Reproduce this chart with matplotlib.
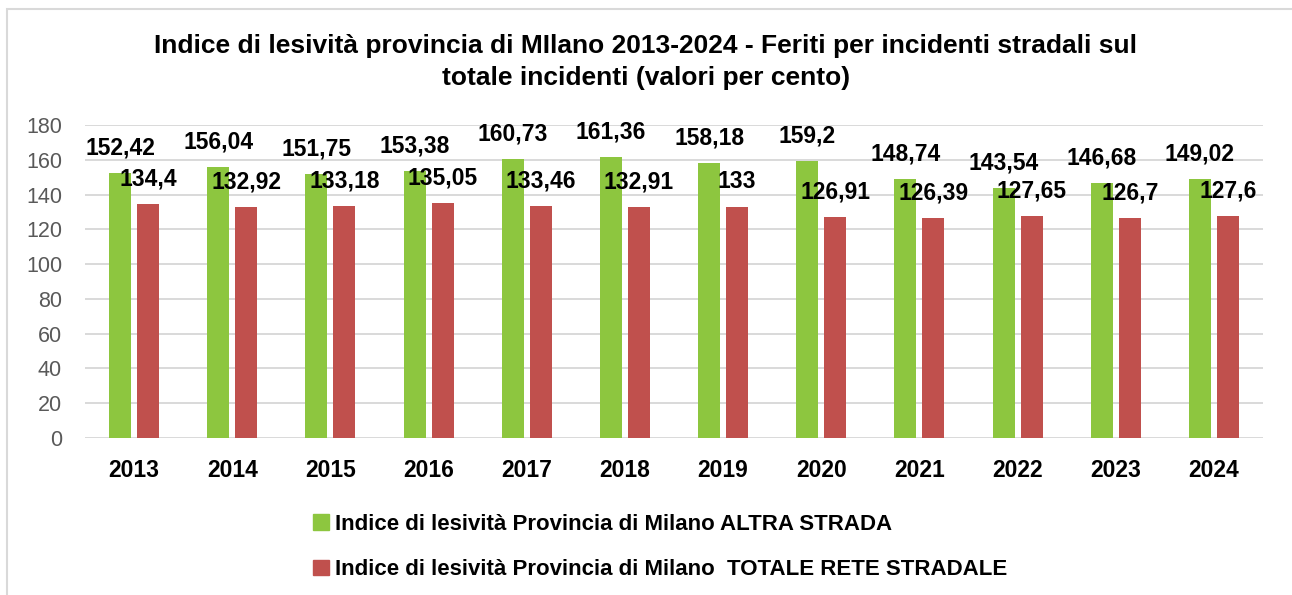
import matplotlib
matplotlib.use("Agg")
import matplotlib.pyplot as plt
import numpy as np
from matplotlib.patches import Patch, Rectangle

years = ["2013", "2014", "2015", "2016", "2017", "2018", "2019", "2020", "2021", "2022", "2023", "2024"]
altra_strada = [152.42, 156.04, 151.75, 153.38, 160.73, 161.36, 158.18, 159.2, 148.74, 143.54, 146.68, 149.02]
totale_rete = [134.4, 132.92, 133.18, 135.05, 133.46, 132.91, 133, 126.91, 126.39, 127.65, 126.7, 127.6]
y_ticks = [0, 20, 40, 60, 80, 100, 120, 140, 160, 180]

title = ("Indice di lesività provincia di MIlano 2013-2024 - Feriti per incidenti stradali sul\n"
         "totale incidenti (valori per cento)")
label_green = "Indice di lesività Provincia di Milano ALTRA STRADA"
label_red = "Indice di lesività Provincia di Milano  TOTALE RETE STRADALE"

GREEN = "#8DC63F"
RED = "#C0504D"
FONT = ["Liberation Sans", "DejaVu Sans"]


def fmt(v):
    s = f"{v:.2f}".rstrip("0").rstrip(".")
    return s.replace(".", ",")


plt.rcParams["font.family"] = FONT

fig = plt.figure(figsize=(12.92, 5.95), dpi=100)
ax = fig.add_axes([85 / 1292, 1 - 438 / 595, (1263 - 85) / 1292, (438 - 125) / 595])

# outer chart border, cropped on right and bottom like the screenshot
fig.patches.append(Rectangle((7 / 1292, -0.2), 1.5, 1 - 9 / 595 + 0.2, transform=fig.transFigure,
                             fill=False, edgecolor="#D9D9D9", linewidth=1.5))

x = np.arange(len(years))
w = 0.224
off = 0.142
b1 = ax.bar(x - off, altra_strada, width=w, color=GREEN, zorder=3)
b2 = ax.bar(x + off, totale_rete, width=w, color=RED, zorder=3)

for bars, vals in ((b1, altra_strada), (b2, totale_rete)):
    for rect, v in zip(bars, vals):
        ax.annotate(fmt(v), (rect.get_x() + rect.get_width() / 2, v), xytext=(0, 18),
                    textcoords="offset points", ha="center", va="center",
                    fontsize=16.5, fontweight="bold", color="black", zorder=4)

ax.set_xlim(-0.5, len(years) - 0.5)
ax.set_ylim(0, 180)
ax.set_yticks(y_ticks)
ax.set_yticklabels([str(t) for t in y_ticks], fontsize=15.5, color="#595959")
ax.set_xticks(x)
ax.set_xticklabels(years, fontsize=16.5, fontweight="bold", color="black")
ax.tick_params(axis="both", length=0)
ax.tick_params(axis="x", pad=15)
ax.tick_params(axis="y", pad=16.5)
ax.grid(axis="y", color="#D9D9D9", linewidth=1.4, zorder=0)
for s in ax.spines.values():
    s.set_visible(False)

fig.text(646 / 1292, 1 - 62 / 595, title, ha="center", va="center", fontsize=19,
         fontweight="bold", linespacing=1.45)

handles = [Patch(color=GREEN), Patch(color=RED)]
fig.legend(handles, [label_green, label_red], loc="upper left",
           bbox_to_anchor=(293 / 1292, 1 - 494 / 595), ncol=1, frameon=False,
           handlelength=0.7, handleheight=0.7, handletextpad=0.3, labelspacing=1.1,
           prop={"family": FONT, "weight": "bold", "size": 16})

fig.savefig("out.png", dpi=100)
